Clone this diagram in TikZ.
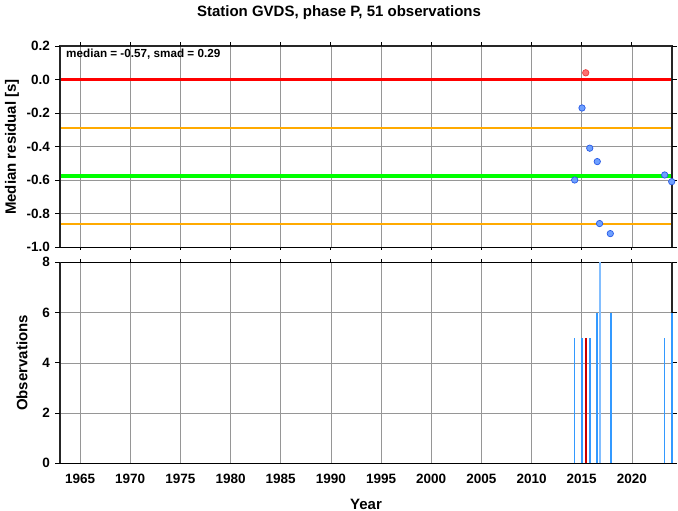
\documentclass[tikz,border=0pt]{standalone}
\usepackage{fontspec}
\setmainfont{Liberation Sans}
\definecolor{barblue}{RGB}{51,153,255}
\definecolor{lightbar}{RGB}{130,190,255}
\definecolor{darkbar}{RGB}{204,0,0}
\definecolor{dotfill}{RGB}{110,160,255}
\definecolor{dotedge}{RGB}{40,90,230}
\definecolor{rdotfill}{RGB}{255,110,110}
\definecolor{rdotedge}{RGB}{235,60,60}
\definecolor{orangeline}{RGB}{255,170,0}
\definecolor{gridgray}{RGB}{150,150,150}
\begin{document}
\begin{tikzpicture}[x=1pt,y=1pt,
  gridline/.style={draw=gridgray, line width=0.6pt},
  framethick/.style={draw=black!85, line width=1.8pt},
  framethin/.style={draw=black, line width=0.9pt},
  tickmark/.style={draw=black, line width=0.8pt},
  ticklab/.style={font=\fontsize{13.5}{14}\selectfont\bfseries, inner sep=0pt},
  axlab/.style={font=\fontsize{15}{16}\selectfont\bfseries, inner sep=0pt},
  bluedot/.style={fill=dotfill, draw=dotedge, line width=0.7pt},
  reddot/.style={fill=rdotfill, draw=rdotedge, line width=0.7pt},
  obsbar/.style={draw=barblue, line width=1.6pt},
]
\path[fill=white] (0,0) rectangle (678,-511);
\useasboundingbox (0,0) rectangle (678,-511);

\node[axlab, anchor=base] (title) at (339,-16.5) {Station GVDS, phase P, 51 observations};

% ---------------- top panel ----------------
\begin{scope}[shift={(60pt,-79.5pt)}, x=10.033pt, y=167.5pt]
  \foreach \yr in {1965,1970,...,2020}
    \draw[gridline] (\yr-1963,0.2) -- (\yr-1963,-1.0);
  \foreach \v in {-0.8,-0.6,-0.4,-0.2,0}
    \draw[gridline] (0,\v) -- (61,\v);
  % statistic lines
  \draw[draw=red, line width=2.2pt] (0,0) -- (61,0);
  \draw[draw=orangeline, line width=2.2pt] (0,-0.288) -- (61,-0.288);
  \draw[draw=orangeline, line width=2.2pt] (0,-0.861) -- (61,-0.861);
  \draw[draw=green, line width=4pt] (0,-0.574) -- (61,-0.574);
  % frame
  \draw[framethin] (0,-1.0) -- (61,-1.0);
  \draw[framethick] (0,-1.0) -- (0,0.2) -- (61,0.2) -- (61,-1.0);
  % ticks
  \foreach \v/\lab in {0.2/0.2,0/0.0,-0.2/-0.2,-0.4/-0.4,-0.6/-0.6,-0.8/-0.8,-1.0/-1.0} {
    \draw[tickmark] (0,\v) -- ++(-5pt,0);
    \draw[tickmark] (61,\v) -- ++(5pt,0);
    \node[ticklab, anchor=east] (yl\lab) at ([xshift=-10pt]0,\v) {\lab};
  }
  \foreach \yr in {1965,1970,...,2020} {
    \draw[tickmark] (\yr-1963,0.2) -- ++(0,4pt);
    \draw[tickmark] (\yr-1963,-1.0) -- ++(0,-3pt);
  }
  % points
  \draw[reddot] (2015.4-1963,0.04) circle (3.2pt);
  \foreach \t/\v in {2015.03/-0.17, 2015.8/-0.41, 2016.55/-0.49, 2014.3/-0.60,
                     2023.27/-0.57, 2023.97/-0.61, 2016.78/-0.86, 2017.85/-0.92}
    \draw[bluedot] (\t-1963,\v) circle (3.2pt);
  \node[font=\fontsize{11.7}{12}\selectfont\bfseries, anchor=west, inner sep=0pt] (stat) at ([xshift=6pt,yshift=-8pt]0,0.2) {median = -0.57, smad = 0.29};
\end{scope}
\node[axlab, rotate=90] (ylab1) at (12,-147) {Median residual [s]};

% ---------------- bottom panel ----------------
\begin{scope}[shift={(60pt,-463.3pt)}, x=10.033pt, y=25.125pt]
  \foreach \yr in {1965,1970,...,2020}
    \draw[gridline] (\yr-1963,0) -- (\yr-1963,8);
  \foreach \v in {2,4,6}
    \draw[gridline] (0,\v) -- (61,\v);
  % frame
  \draw[framethin] (0,8) -- (61,8);
  \draw[framethin] (0,0) -- (61,0);
  \draw[framethick] (0,0) -- (0,8);
  \draw[framethick] (61,0) -- (61,8);
  \foreach \v in {0,2,4,6,8} {
    \draw[tickmark] (0,\v) -- ++(-5pt,0);
    \draw[tickmark] (61,\v) -- ++(5pt,0);
    \node[ticklab, anchor=east] (ol\v) at ([xshift=-10pt]0,\v) {\v};
  }
  \foreach \yr in {1965,1970,...,2020} {
    \draw[tickmark] (\yr-1963,8) -- ++(0,3pt);
    \node[ticklab] (xl\yr) at ([yshift=-16pt]\yr-1963,0) {\yr};
  }
  % bars
  \foreach \t/\n in {2014.3/5, 2015.03/5, 2015.8/5, 2016.55/6, 2017.89/6, 2023.27/5, 2023.97/6}
    \draw[obsbar] (\t-1963,0) -- (\t-1963,\n);
  \draw[draw=darkbar, line width=1.6pt] (2015.4-1963,0) -- (2015.4-1963,5);
  \draw[draw=lightbar, line width=1.6pt] (2016.82-1963,0) -- (2016.82-1963,8);
\end{scope}
\node[axlab, rotate=90] (ylab2) at (22,-363) {Observations};
\node[axlab, anchor=base] (xlab) at (366,-509) {Year};
\end{tikzpicture}
\end{document}
